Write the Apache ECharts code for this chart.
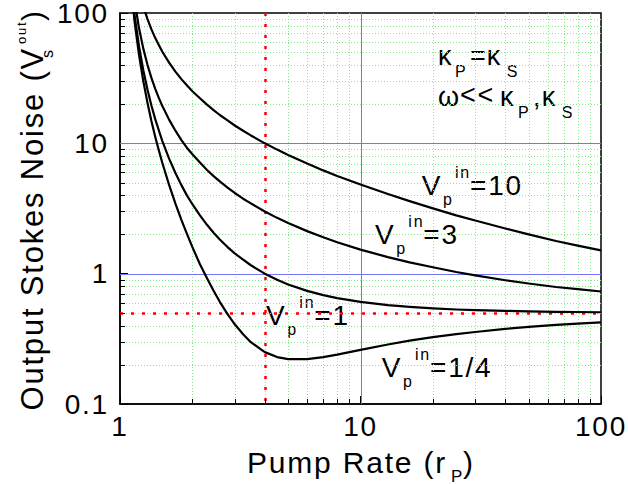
<!DOCTYPE html>
<html>
<head>
<meta charset="utf-8">
<script src="https://cdn.jsdelivr.net/npm/echarts@6/dist/echarts.min.js"></script>
<style>
  html, body { margin: 0; padding: 0; background: #fff; }
  #chart { width: 628px; height: 484px; }
  #chart text { letter-spacing: 1.8px; }
</style>
</head>
<body>
<div id="chart"></div>
<script>
var pumpRate = [1.1, 1.15, 1.2, 1.25, 1.3, 1.35, 1.4, 1.45, 1.5, 1.6, 1.7, 1.8, 1.9, 2, 2.15, 2.3, 2.45, 2.6, 2.8, 3, 3.25, 3.5, 4, 4.5, 5, 6, 7, 8, 10, 13, 16, 20, 25, 30, 40, 50, 65, 80, 100];
var noiseVin10 = [395, 220, 150, 113, 90.2, 75.2, 64.5, 56.8, 50.4, 41.6, 35.5, 31.1, 27.8, 25.1, 22.2, 19.8, 18.0, 16.5, 15.0, 13.7, 12.5, 11.5, 10, 8.95, 8.15, 7.0, 6.2, 5.62, 4.83, 4.08, 3.6, 3.17, 2.8, 2.56, 2.22, 2.0, 1.78, 1.64, 1.51];
var noiseVin3 = [251, 124, 76.3, 53.3, 40.2, 31.9, 26.3, 22.3, 19.3, 15.2, 12.5, 10.6, 9.22, 8.24, 7.12, 6.24, 5.60, 5.10, 4.58, 4.16, 3.76, 3.46, 3.0, 2.68, 2.45, 2.12, 1.90, 1.74, 1.53, 1.34, 1.22, 1.12, 1.03, 0.97, 0.89, 0.84, 0.79, 0.76, 0.73];
var noiseVin1 = [210, 95.9, 55.4, 36.4, 26.0, 19.6, 15.4, 12.6, 10.4, 7.63, 5.92, 4.78, 3.97, 3.41, 2.80, 2.37, 2.06, 1.83, 1.60, 1.43, 1.28, 1.16, 1.0, 0.898, 0.827, 0.738, 0.685, 0.650, 0.607, 0.574, 0.556, 0.541, 0.531, 0.525, 0.518, 0.514, 0.510, 0.508, 0.506];
var noiseVinQuarter = [195, 85.6, 47.5, 30.0, 20.6, 14.9, 11.3, 8.85, 7.06, 4.80, 3.45, 2.59, 2.01, 1.60, 1.18, 0.922, 0.740, 0.608, 0.490, 0.409, 0.343, 0.298, 0.250, 0.229, 0.221, 0.221, 0.229, 0.239, 0.260, 0.286, 0.306, 0.326, 0.344, 0.357, 0.377, 0.390, 0.404, 0.414, 0.423];

// grid / reference lines
var xMinor = [2, 3, 4, 5, 6, 7, 8, 9, 20, 30, 40, 50, 60, 70, 80, 90];
var yMinor = [0.2, 0.3, 0.4, 0.5, 0.6, 0.7, 0.8, 0.9, 2, 3, 4, 5, 6, 7, 8, 9, 20, 30, 40, 50, 60, 70, 80, 90];
var xMajorLines = [10];
var yMajorLines = [1, 10];
var refX = [4];
var refY = [0.5];

var FONT = "'Liberation Sans', Arial, sans-serif";

var chart = echarts.init(document.getElementById('chart'), null, { renderer: 'svg' });

function pairs(ys) {
  return pumpRate.map(function (x, i) { return [x, ys[i]]; });
}

// snap a 1px line onto the pixel grid
function crisp(v) { return Math.round(v) + 0.5; }

// full height vertical lines at x values
function vLines(values, style, z) {
  return {
    type: 'custom', z: z, silent: true, animation: false,
    data: values.map(function (v) { return [v, 1]; }),
    renderItem: function (params, api) {
      var cs = params.coordSys;
      var px = crisp(api.coord([api.value(0), 1])[0]);
      return { type: 'line', shape: { x1: px, y1: cs.y, x2: px, y2: cs.y + cs.height }, style: Object.assign({}, style) };
    }
  };
}

// full width horizontal lines at y values
function hLines(values, style, z) {
  return {
    type: 'custom', z: z, silent: true, animation: false,
    data: values.map(function (v) { return [1, v]; }),
    renderItem: function (params, api) {
      var cs = params.coordSys;
      var py = crisp(api.coord([1, api.value(1)])[1]);
      return { type: 'line', shape: { x1: cs.x, y1: py, x2: cs.x + cs.width, y2: py }, style: Object.assign({}, style) };
    }
  };
}

// small inside ticks on bottom / left axis
function xTicks(values, len) {
  return {
    type: 'custom', z: 6, silent: true, animation: false,
    data: values.map(function (v) { return [v, 1]; }),
    renderItem: function (params, api) {
      var cs = params.coordSys;
      var px = crisp(api.coord([api.value(0), 1])[0]);
      var y0 = cs.y + cs.height;
      return { type: 'line', shape: { x1: px, y1: y0, x2: px, y2: y0 - len }, style: { stroke: '#000', lineWidth: 1 } };
    }
  };
}
function yTicks(values, len) {
  return {
    type: 'custom', z: 6, silent: true, animation: false,
    data: values.map(function (v) { return [1, v]; }),
    renderItem: function (params, api) {
      var cs = params.coordSys;
      var py = crisp(api.coord([1, api.value(1)])[1]);
      return { type: 'line', shape: { x1: cs.x, y1: py, x2: cs.x + len, y2: py }, style: { stroke: '#000', lineWidth: 1 } };
    }
  };
}

function curve(ys) {
  return {
    type: 'line', data: pairs(ys), symbol: 'none', showSymbol: false,
    smooth: false, clip: true, z: 5, animation: false, silent: true,
    lineStyle: { color: '#000', width: 2.2, join: 'round' }
  };
}

function txt(x, y, s, size, align) {
  return {
    type: 'text', x: x, y: y, silent: true,
    style: {
      text: s, fontSize: size, fontFamily: FONT, fill: '#000',
      align: align || 'left', textAlign: align || 'left',
      verticalAlign: 'middle', textVerticalAlign: 'middle'
    }
  };
}

// V_p^in = ... label pieces
function vLabel(x, y, value) {
  return [
    txt(x, y, 'V', 28),
    txt(x + 21.3, y + 14.5, 'p', 16),
    txt(x + 33.3, y - 12.5, 'in', 16),
    txt(x + 48.3, y, value, 28)
  ];
}

var gfx = [];
gfx = gfx.concat(vLabel(421.7, 185.3, '=10'));
gfx = gfx.concat(vLabel(375, 234, '=3'));
gfx = gfx.concat(vLabel(266, 315, '=1'));
gfx = gfx.concat(vLabel(381.7, 367, '=1/4'));

// kappa_P = kappa_S ; omega << kappa_P, kappa_S
gfx.push(txt(438, 55.6, 'κ', 27), txt(455, 71, 'P', 16), txt(470, 56, '=', 27),
  txt(486.7, 55.6, 'κ', 27), txt(506.7, 71, 'S', 16));
gfx.push(txt(438, 97.3, 'ω', 27), txt(460, 95, '<<', 27), txt(500, 97.3, 'κ', 27),
  txt(518, 112.4, 'P', 16), txt(533, 97.3, ',', 27), txt(541.7, 97.3, 'κ', 27), txt(561.7, 112.4, 'S', 16));

// x axis title
gfx.push(txt(247, 462, 'Pump Rate (r', 30), txt(451, 476, 'P', 17), txt(463, 462, ')', 30));

// y axis title, rotated
gfx.push({
  type: 'group', x: 32, y: 415, rotation: Math.PI / 2, silent: true,
  children: [
    txt(368, 0, 'Output Stokes Noise (V', 31, 'right'),
    txt(357, 15, 's', 16),
    txt(371, -11, 'out', 13),
    txt(394, 0, ')', 30)
  ]
});

var option = {
  backgroundColor: '#fff',
  animation: false,
  grid: {
    left: 120, top: 13, right: 27, bottom: 80,
    show: true, borderColor: '#000', borderWidth: 1.5,
    outerBoundsMode: 'none'
  },
  xAxis: {
    type: 'log', logBase: 10, min: 1, max: 100,
    splitLine: { show: false },
    axisLine: { lineStyle: { color: '#000', width: 1.5 } },
    axisTick: { inside: true, length: 8, lineStyle: { color: '#000', width: 1 } },
    axisLabel: { color: '#000', fontSize: 28, fontFamily: FONT, margin: 8, showMinLabel: true, showMaxLabel: true }
  },
  yAxis: {
    type: 'log', logBase: 10, min: 0.1, max: 100,
    splitLine: { show: false },
    axisLine: { lineStyle: { color: '#000', width: 1.5 } },
    axisTick: { inside: true, length: 8, lineStyle: { color: '#000', width: 1 } },
    axisLabel: { color: '#000', fontSize: 28, fontFamily: FONT, margin: 11, showMinLabel: true, showMaxLabel: true, padding: [4, 0, 0, 0] }
  },
  graphic: gfx,
  series: [
    vLines(xMinor, { stroke: '#8ce88c', lineWidth: 1, lineDash: [1, 2] }, 1),
    hLines(yMinor, { stroke: '#8ce88c', lineWidth: 1, lineDash: [1, 2] }, 1),
    vLines(xMajorLines, { stroke: '#7474ff', lineWidth: 1 }, 2),
    hLines(yMajorLines, { stroke: '#7474ff', lineWidth: 1 }, 2),
    vLines(refX, { stroke: '#ff0000', lineWidth: 2.5, lineDash: [3, 8] }, 3),
    hLines(refY, { stroke: '#ff0000', lineWidth: 2.5, lineDash: [3, 8] }, 3),
    curve(noiseVin10),
    curve(noiseVin3),
    curve(noiseVin1),
    curve(noiseVinQuarter),
    xTicks(xMinor, 5),
    yTicks(yMinor, 5)
  ]
};

chart.setOption(option);
</script>
</body>
</html>
